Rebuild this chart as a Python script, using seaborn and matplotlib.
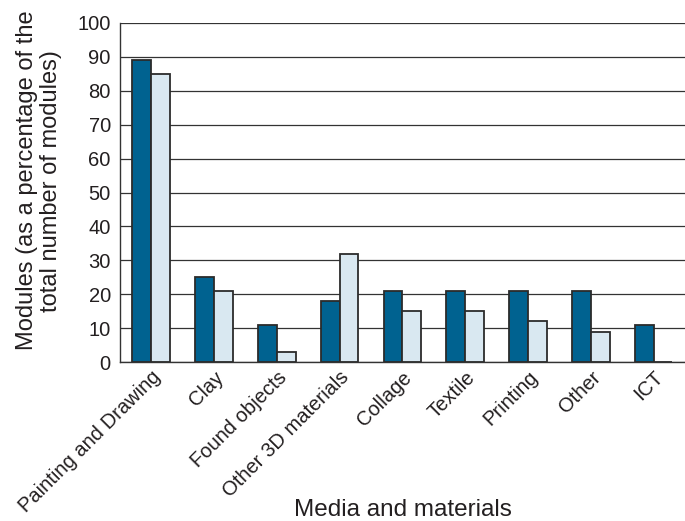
import pandas as pd
import numpy as np
import matplotlib.pyplot as plt
import seaborn as sns

# =========================================================
# DATA
# =========================================================

categories = ["Painting and Drawing", "Clay", "Found objects",
              "Other 3D materials", "Collage", "Textile",
              "Printing", "Other", "ICT"]

series_names = ["Series 1", "Series 2"]

series_1 = [89, 25, 11, 18, 21, 21, 21, 21, 11]
series_2 = [85, 21, 3, 32, 15, 15, 12, 9, 0]

df = pd.DataFrame({
    "category": categories * 2,
    "series": [series_names[0]] * len(categories) + [series_names[1]] * len(categories),
    "value": series_1 + series_2,
})

# =========================================================
# STYLE
# =========================================================

sns.set_style("white")
plt.rcParams["font.family"] = ["Liberation Sans", "DejaVu Sans"]
plt.rcParams["text.color"] = "#231f20"
plt.rcParams["xtick.color"] = "#231f20"
plt.rcParams["ytick.color"] = "#231f20"
plt.rcParams["axes.labelcolor"] = "#231f20"

fig = plt.figure(figsize=(6.85, 5.21), dpi=100)
ax = fig.add_axes([0.175, 0.305, 0.825, 0.651])

sns.barplot(
    data=df,
    x="category",
    y="value",
    hue="series",
    palette=["#006290", "#d9e8f1"],
    saturation=1,
    width=0.6,
    edgecolor="#2b2b2b",
    linewidth=1.3,
    ax=ax,
)

ax.legend_.remove()

ax.set_ylim(0, 100)
ax.set_xlim(-0.5, len(categories) - 0.5)
ax.set_yticks(np.arange(0, 101, 10))
ax.yaxis.grid(True, color="#333333", linewidth=0.9)
ax.set_axisbelow(True)

ax.set_xticks(np.arange(len(categories)))
ax.set_xticklabels(categories, rotation=45, ha="right", rotation_mode="anchor", fontsize=14.5)
ax.set_xticks(np.arange(len(categories)) - 0.5, minor=True)
ax.tick_params(axis="x", which="major", length=0, pad=4)
ax.tick_params(axis="x", which="minor", length=5, width=1, color="#333333", direction="out")
ax.tick_params(axis="y", length=5, width=1, color="#333333", direction="out", labelsize=14.5, pad=1.5)

for side in ["top", "right"]:
    ax.spines[side].set_visible(False)
for side in ["left", "bottom"]:
    ax.spines[side].set_color("#333333")
    ax.spines[side].set_linewidth(1)

ax.set_xlabel("Media and materials", fontsize=17.5)
ax.xaxis.set_label_coords(0.5, -0.405)
ax.set_ylabel("Modules (as a percentage of the\ntotal number of modules)", fontsize=17,
              linespacing=1.1)
ax.yaxis.set_label_coords(-0.103, 0.535)

fig.savefig("out.png", dpi=100)
